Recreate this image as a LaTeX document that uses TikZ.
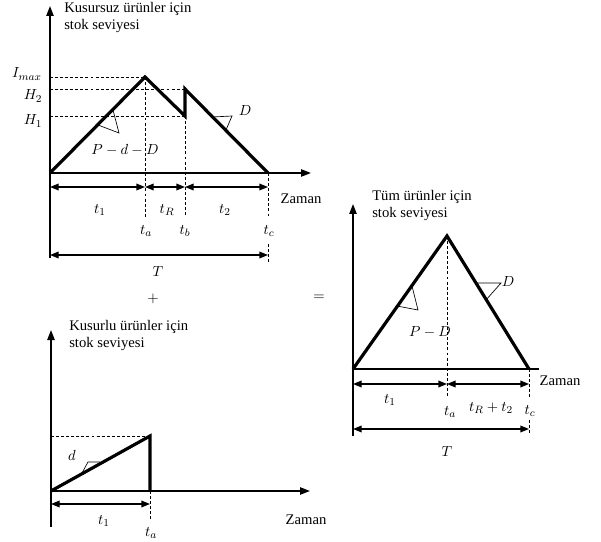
\documentclass[tikz,border=0pt]{standalone}
\usepackage{fontspec}
\setmainfont{Liberation Serif}
\usetikzlibrary{arrows.meta}
\begin{document}
\begin{tikzpicture}[x=0.75pt,y=-0.75pt,
  every node/.style={font=\fontsize{11}{12.75}\selectfont, inner sep=0pt},
  axis/.style={line width=1.1pt, -{Triangle[length=7.5pt,width=5.5pt]}},
  plainaxis/.style={line width=1.1pt},
  curve/.style={line width=2.4pt, line join=miter, line cap=butt},
  guide/.style={line width=0.5pt, dash pattern=on 2.2pt off 1.6pt},
  dim/.style={line width=1pt, {Triangle[length=6.5pt,width=5pt]}-{Triangle[length=6.5pt,width=5pt]}},
  slope/.style={line width=0.5pt},
  title/.style={align=left, anchor=north west}
]
\useasboundingbox (0,0) rectangle (601,542);

% ================= TOP DIAGRAM =================
\coordinate (O1) at (50,173);
\coordinate (Y1top) at (50,6);
\coordinate (Y1bot) at (50,258);
\coordinate (X1end) at (311,173);
\coordinate (Pk) at (145,77);
\coordinate (H1p) at (185,116);
\coordinate (H2p) at (185,89);
\coordinate (E1) at (268,173);
\coordinate (YImax) at (50,77);
\coordinate (YH2) at (50,89);
\coordinate (YH1) at (50,116);
\coordinate (ta1low) at (145,217);
\coordinate (tb1low) at (185,217);
\coordinate (tc1low) at (268,217);
\coordinate (tc1up2) at (268,244);
\coordinate (tc1low2) at (268,262);
\coordinate (d1a) at (50,187);
\coordinate (d1b) at (145,187);
\coordinate (d1c) at (185,187);
\coordinate (d1d) at (268,187);
\coordinate (T1a) at (50,255);
\coordinate (T1b) at (268,255);

\draw[axis] (Y1bot) -- (Y1top);
\draw[axis] (O1) -- (X1end);
\draw[guide] (YImax) -- (Pk);
\draw[guide] (YH2) -- (H2p);
\draw[guide] (YH1) -- (H1p);
\draw[guide] (Pk) -- (ta1low);
\draw[guide] (H1p) -- (tb1low);
\draw[guide] (E1) -- (tc1low);
\draw[guide] (tc1up2) -- (tc1low2);
\draw[curve] (O1) -- (Pk) -- (H1p) -- (H2p) -- (E1);
\draw[slope] (113,110) -- (119,133) -- (98,125);
\draw[slope] (212,117) -- (232,116) -- (226,130);
\draw[dim] (d1a) -- (d1b);
\draw[dim] (d1b) -- (d1c);
\draw[dim] (d1c) -- (d1d);
\draw[dim] (T1a) -- (T1b);

\node[title] (ttl1) at (64,2) {Kusursuz ürünler için\\stok seviyesi};
\node (lImax) at (27,74) {$I_{max}$};
\node (lH2) at (33,96) {$H_2$};
\node (lH1) at (33,121) {$H_1$};
\node (lPdD) at (125,150) {$P-d-D$};
\node (lD1) at (245,111) {$D$};
\node (lt1) at (100,210) {$t_1$};
\node (ltR) at (167,210) {$t_R$};
\node (lt2) at (225,210) {$t_2$};
\node (lta1) at (146,231) {$t_a$};
\node (ltb1) at (185,231) {$t_b$};
\node (ltc1) at (269,231) {$t_c$};
\node (lZ1) at (301,199) {Zaman};
\node (lT1) at (158,272) {$T$};

\node (plus) at (153,299) {$+$};
\node (eq) at (319,298) {$=$};

% ================= RIGHT DIAGRAM =================
\coordinate (O2) at (353,369);
\coordinate (Y2top) at (353,204);
\coordinate (Y2bot) at (353,436);
\coordinate (X2end) at (539,369);
\coordinate (Pk2) at (447,236);
\coordinate (E2) at (529,369);
\coordinate (ta2low) at (447,396);
\coordinate (tc2low) at (529,399);
\coordinate (tc2up2) at (529,420);
\coordinate (tc2low2) at (529,434);
\coordinate (d2a) at (353,384);
\coordinate (d2b) at (447,384);
\coordinate (d2c) at (529,384);
\coordinate (T2a) at (353,429);
\coordinate (T2b) at (529,429);

\draw[axis] (Y2bot) -- (Y2top);
\draw[plainaxis] (O2) -- (X2end);
\draw[guide] (Pk2) -- (ta2low);
\draw[guide] (E2) -- (tc2low);
\draw[guide] (tc2up2) -- (tc2low2);
\draw[curve] (O2) -- (Pk2) -- (E2);
\draw[slope] (412,286) -- (418,310) -- (397,306);
\draw[slope] (476,283) -- (501,283) -- (486,300);
\draw[dim] (d2a) -- (d2b);
\draw[dim] (d2b) -- (d2c);
\draw[dim] (T2a) -- (T2b);

\node[title] (ttl2) at (372,190) {Tüm ürünler için\\stok seviyesi};
\node (lD2) at (508,282) {$D$};
\node (lPD) at (430,332) {$P-D$};
\node (lt12) at (390,400) {$t_1$};
\node (lta2) at (450,412) {$t_a$};
\node (ltRt2) at (491,408) {$t_R+t_2$};
\node (ltc2) at (530,411) {$t_c$};
\node (lZ2) at (560,381) {Zaman};
\node (lT2) at (447,452) {$T$};

% ================= BOTTOM DIAGRAM =================
\coordinate (O3) at (51,491);
\coordinate (Y3top) at (51,330);
\coordinate (Y3bot) at (51,527);
\coordinate (X3end) at (310,491);
\coordinate (Pk3) at (150,436);
\coordinate (B3) at (150,491);
\coordinate (Y3d) at (51,436);
\coordinate (ta3low) at (150,519);
\coordinate (d3a) at (51,504);
\coordinate (d3b) at (150,504);

\draw[axis] (Y3bot) -- (Y3top);
\draw[axis] (O3) -- (X3end);
\draw[guide] (Y3d) -- (Pk3);
\draw[guide] (B3) -- (ta3low);
\draw[curve] (O3) -- (Pk3) -- (B3);
\draw[slope] (82,473) -- (88,462) -- (100,462);
\draw[dim] (d3a) -- (d3b);

\node[title] (ttl3) at (69,320) {Kusurlu ürünler için\\stok seviyesi};
\node (ld) at (72,455) {$d$};
\node (lt13) at (104,521) {$t_1$};
\node (lta3) at (151,533) {$t_a$};
\node (lZ3) at (306,520) {Zaman};
\end{tikzpicture}
\end{document}
